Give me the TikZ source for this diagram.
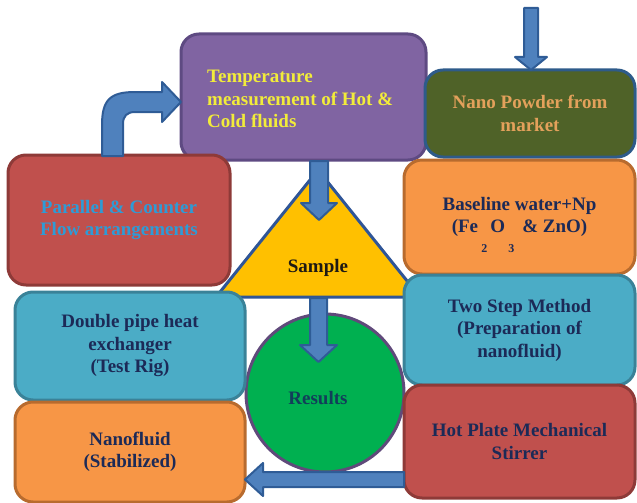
\documentclass[tikz,border=0pt]{standalone}
\usepackage{fontspec}
\setmainfont{Liberation Serif}
\usetikzlibrary{calc}
\definecolor{purpF}{HTML}{8064A2}\definecolor{purpD}{HTML}{5E4A82}
\definecolor{oliveF}{HTML}{4F6228}\definecolor{oliveD}{HTML}{2E5B8A}
\definecolor{oranF}{HTML}{F79646}\definecolor{oranD}{HTML}{B86B2E}
\definecolor{redF}{HTML}{C0504D}\definecolor{redD}{HTML}{8E3A38}
\definecolor{bluF}{HTML}{4BACC6}\definecolor{bluD}{HTML}{3A8298}
\definecolor{grnF}{HTML}{00B050}\definecolor{grnD}{HTML}{604A7B}
\definecolor{arrF}{HTML}{4F81BD}\definecolor{arrD}{HTML}{2F5C96}
\definecolor{triF}{HTML}{FFC000}\definecolor{triD}{HTML}{2F5597}
\definecolor{txYel}{HTML}{F2EC3A}\definecolor{txTan}{HTML}{E3A15B}
\definecolor{txSky}{HTML}{2E9BD6}\definecolor{txNavy}{HTML}{1C2A57}
\definecolor{txDark}{HTML}{1E1A14}\definecolor{txTeal}{HTML}{123E5A}
\tikzset{
  boxbase/.style={rectangle, rounded corners=18pt, line width=3pt, align=center,
    font=\fontsize{19}{22.5}\selectfont\bfseries, inner sep=0pt},
  blockarrow/.style={fill=arrF, draw=arrD, line width=2pt, line join=round},
}
\begin{document}
\begin{tikzpicture}[x=1pt,y=-1pt]
\useasboundingbox (0,0) rectangle (637,503);
% triangle (behind boxes)
\coordinate (tA) at (318,170);
\coordinate (tL) at (216,297);
\coordinate (tR) at (420,297);
\filldraw[fill=triF, draw=triD, line width=3pt, line join=round] (tL) -- (tA) -- (tR) -- cycle;
\node[font=\fontsize{19}{22}\selectfont\bfseries, text=txDark] (sample) at (318,268) {Sample};
% circle
\node[circle, minimum size=158pt, fill=grnF, draw=grnD, line width=3pt, inner sep=0pt] (res) at (325,393) {};
\node[font=\fontsize{19}{22}\selectfont\bfseries, text=txTeal] (restxt) at (318,398) {Results};
% boxes
\node[boxbase, fill=purpF, draw=purpD, minimum width=245pt, minimum height=126pt] (temp) at (303.5,97) {};
\node[font=\fontsize{19}{22.5}\selectfont\bfseries, text=txYel, align=left, anchor=west, inner sep=0pt] (temptxt) at (207,99)
  {Temperature\\measurement of Hot \&\\Cold fluids};
\node[boxbase, fill=oliveF, draw=oliveD, minimum width=210pt, minimum height=87pt, text=txTan] (nano) at (530,113.5)
  {Nano Powder from\\market};
\node[boxbase, fill=oranF, draw=oranD, minimum width=231pt, minimum height=114pt, text=txNavy] (base) at (519.5,217)
  {Baseline water+Np\\(Fe\,\smash{\raisebox{-20pt}{\fontsize{12}{12}\selectfont 2}}\,O\,\smash{\raisebox{-20pt}{\fontsize{12}{12}\selectfont 3}}\, \& ZnO)};
\node[boxbase, fill=redF, draw=redD, minimum width=222pt, minimum height=130pt, text=txSky] (para) at (119,220)
  {Parallel \& Counter\\Flow arrangements};
\node[boxbase, fill=bluF, draw=bluD, minimum width=230pt, minimum height=108pt, text=txNavy] (dpipe) at (130,346)
  {Double pipe heat\\exchanger\\(Test Rig)};
\node[boxbase, fill=oranF, draw=oranD, minimum width=230pt, minimum height=100pt, text=txNavy] (nfluid) at (130,452)
  {Nanofluid\\(Stabilized)};
\node[boxbase, fill=bluF, draw=bluD, minimum width=231pt, minimum height=110pt, text=txNavy] (two) at (519.5,330)
  {Two Step Method\\(Preparation of\\nanofluid)};
\node[boxbase, fill=redF, draw=redD, minimum width=231pt, minimum height=113pt, text=txNavy] (hot) at (519.5,441.5)
  {Hot Plate Mechanical\\Stirrer};
% top arrow into Nano Powder
\path[blockarrow] (524,8) -- (538,8) -- (538,57) -- (547,57) -- (531,70) -- (515,57) -- (524,57) -- cycle;
% curved arrow from Parallel to Temperature
\path[blockarrow] (102,156) -- (102,125) .. controls (102,100) and (110,92) .. (135,92) -- (162,92) -- (162,82)
  -- (181,102) -- (162,122) -- (162,112) -- (135,112) .. controls (127,112) and (123,116) .. (123,124) -- (123,156) -- cycle;
% arrow Temperature -> Sample
\path[blockarrow] (310,161) -- (328,161) -- (328,203) -- (337,203) -- (319,220) -- (301,203) -- (310,203) -- cycle;
% arrow Sample -> Results
\path[blockarrow] (310,298) -- (327,298) -- (327,345) -- (337,345) -- (318.5,362) -- (300,345) -- (310,345) -- cycle;
% bottom arrow Hot Plate -> Nanofluid
\path[blockarrow] (404,472) -- (404,487) -- (263,487) -- (263,496) -- (245,479.5) -- (263,463) -- (263,472) -- cycle;
\end{tikzpicture}
\end{document}
